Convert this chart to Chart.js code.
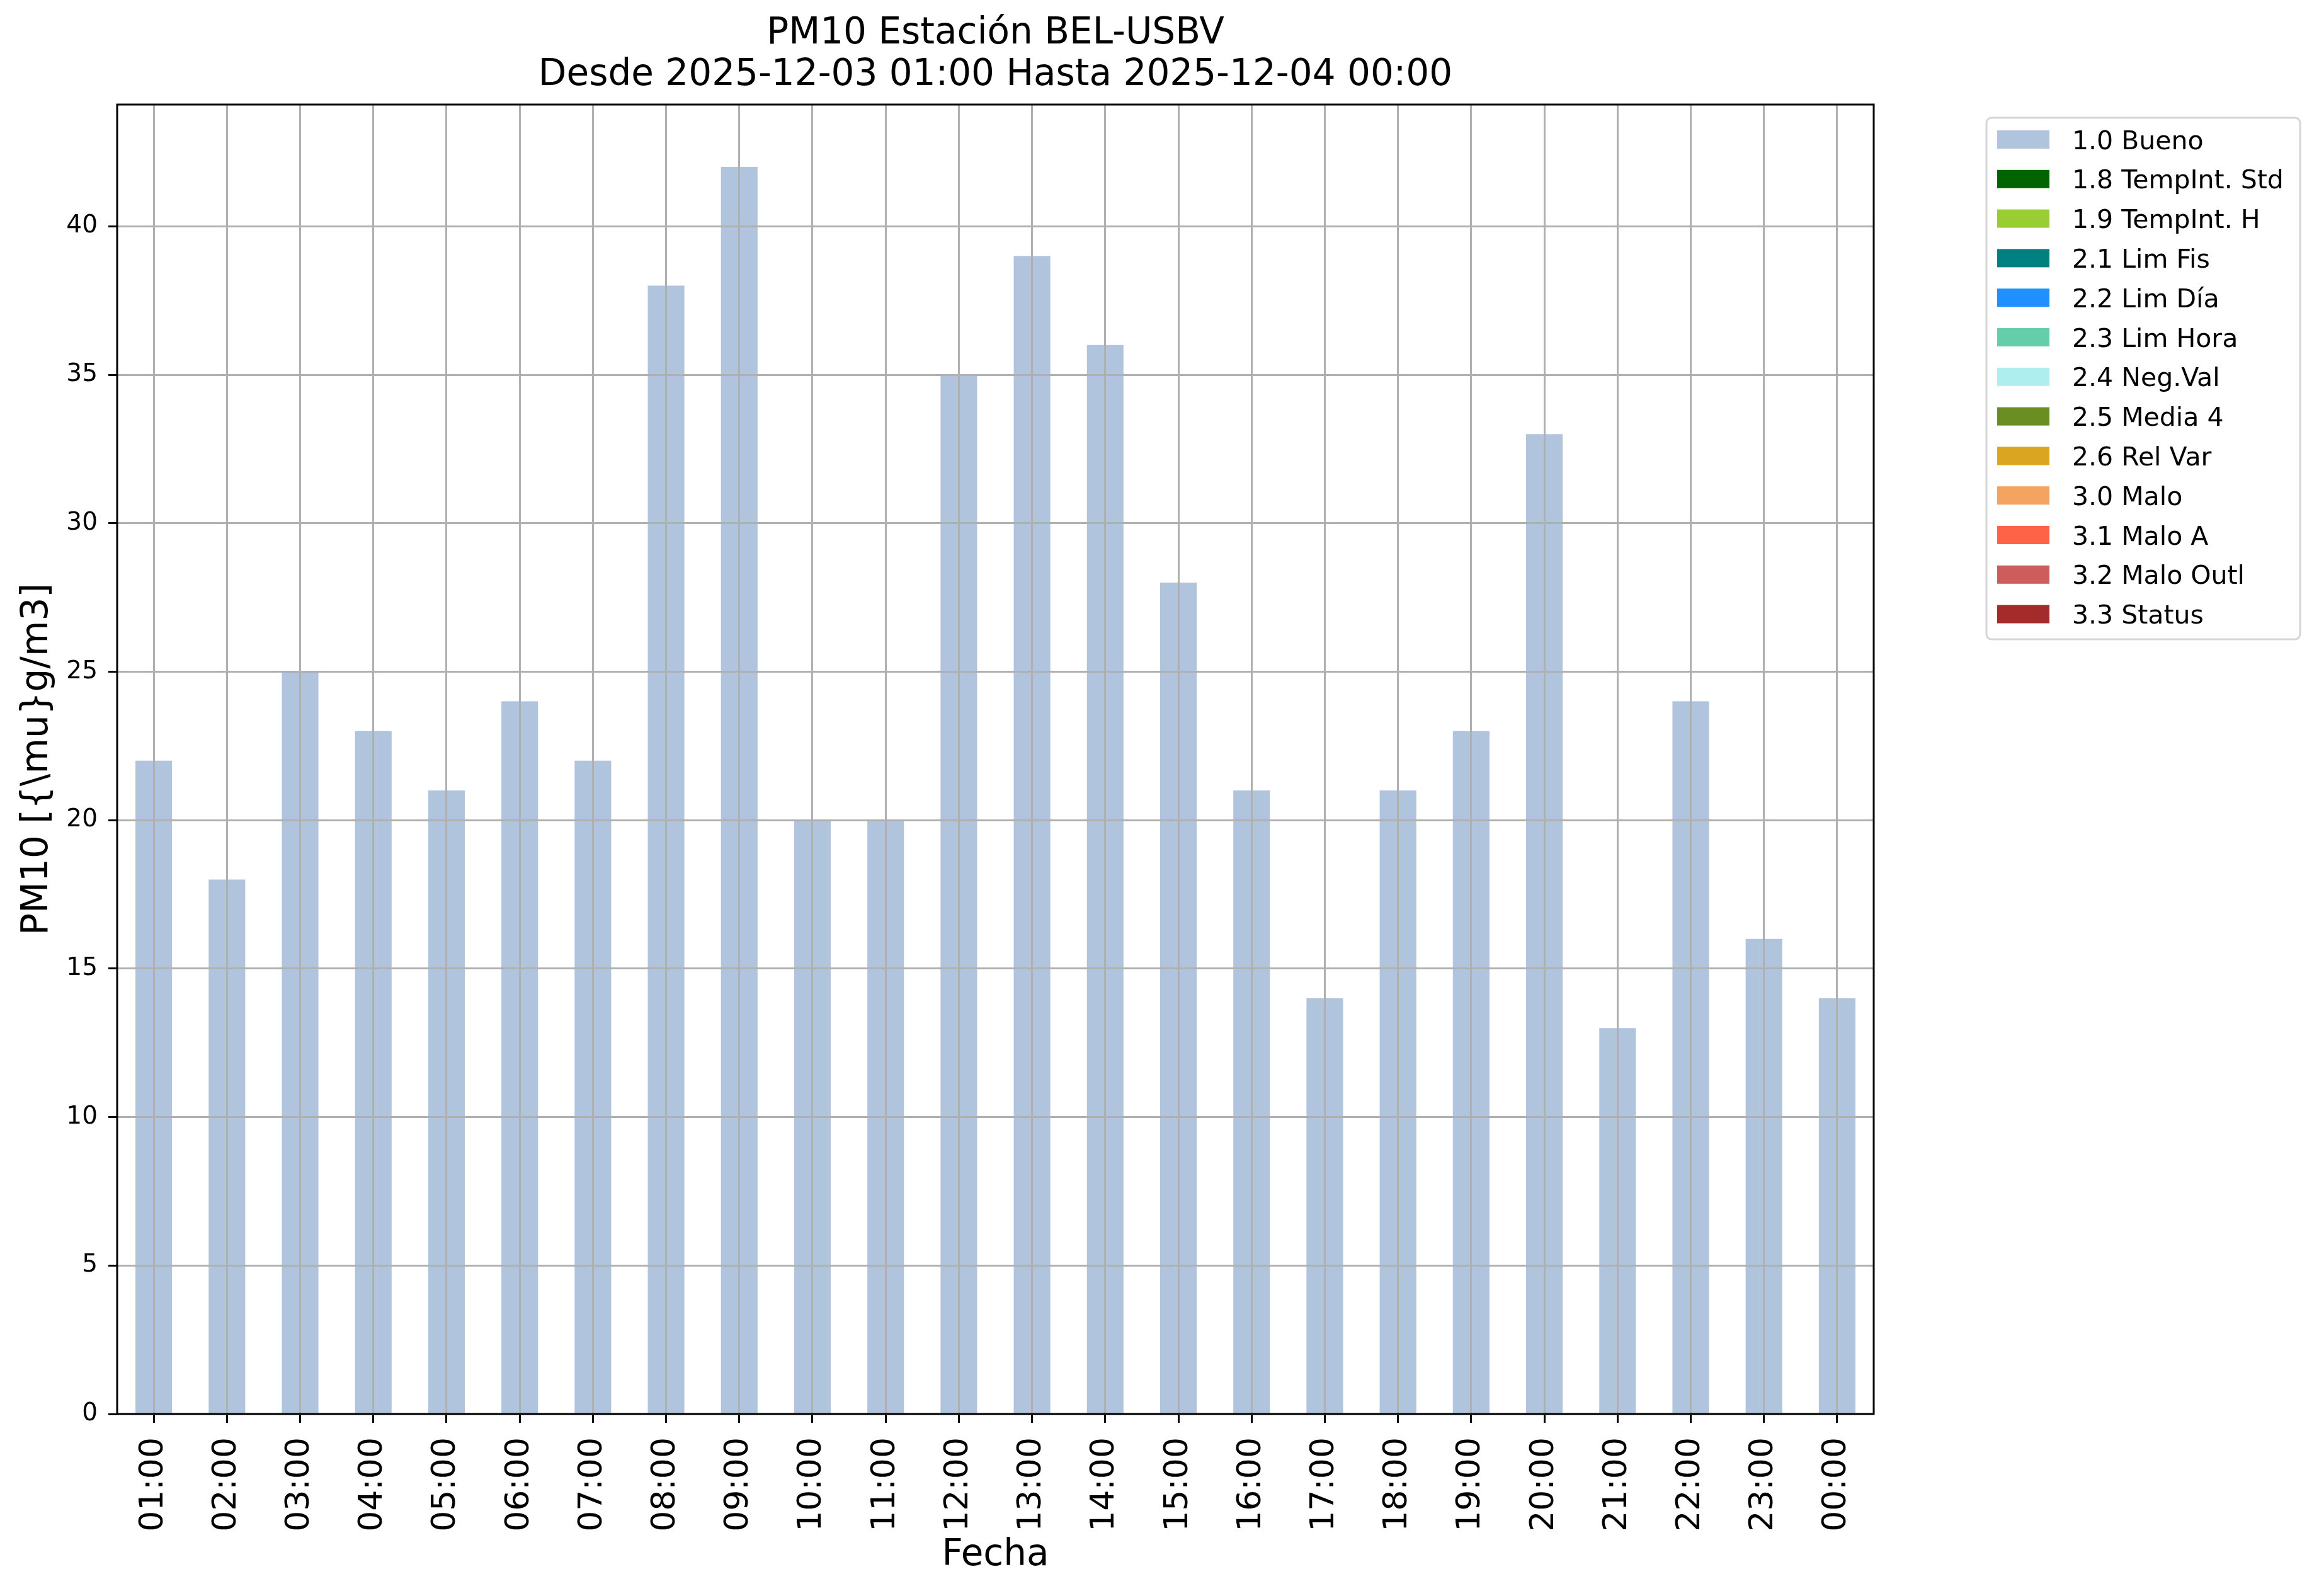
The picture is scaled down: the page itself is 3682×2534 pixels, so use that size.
<!DOCTYPE html>
<html>
<head>
<meta charset="utf-8">
<script src="https://cdn.jsdelivr.net/npm/chart.js@4.4.1/dist/chart.umd.min.js"></script>
<style>
  html, body { margin: 0; padding: 0; background: #fff; }
  canvas { display: block; }
</style>
</head>
<body>
<canvas id="myChart" width="3682" height="2534"></canvas>
<script>
const hours = [
    '01:00', '02:00', '03:00', '04:00', '05:00', '06:00',
    '07:00', '08:00', '09:00', '10:00', '11:00', '12:00',
    '13:00', '14:00', '15:00', '16:00', '17:00', '18:00',
    '19:00', '20:00', '21:00', '22:00', '23:00', '00:00',
];

// PM10 values flagged 1.0 Bueno (all hours)
const bueno = [22, 18, 25, 23, 21, 24, 22, 38, 42, 20, 20, 35,
               39, 36, 28, 21, 14, 21, 23, 33, 13, 24, 16, 14];

const flagLabels = [
    '1.0 Bueno', '1.8 TempInt. Std', '1.9 TempInt. H', '2.1 Lim Fis',
    '2.2 Lim Día', '2.3 Lim Hora', '2.4 Neg.Val', '2.5 Media 4',
    '2.6 Rel Var', '3.0 Malo', '3.1 Malo A', '3.2 Malo Outl', '3.3 Status',
];

const flagColors = [
    '#b0c4de', '#006400', '#9acd32', '#008080',
    '#1e90ff', '#66cdaa', '#afeeee', '#6b8e23',
    '#daa520', '#f4a460', '#ff6347', '#cd5c5c', '#a52a2a',
];

const yTicks = [0, 5, 10, 15, 20, 25, 30, 35, 40];
const yMax = 44.1;

Chart.defaults.font.family = "'DejaVu Sans', sans-serif";
Chart.defaults.color = '#000';

const datasets = flagLabels.map((lab, i) => ({
    label: lab,
    data: i === 0 ? bueno : [],
    backgroundColor: flagColors[i],
    borderWidth: 0,
    barPercentage: 0.5,
    categoryPercentage: 1.0,
}));

// white background + axes frame + matplotlib-like legend box
const extras = {
    id: 'extras',
    beforeDraw(chart) {
        const ctx = chart.ctx;
        ctx.save();
        ctx.fillStyle = '#fff';
        ctx.fillRect(0, 0, chart.width, chart.height);
        ctx.restore();
    },
    afterDraw(chart) {
        const ctx = chart.ctx;
        const a = chart.chartArea;
        ctx.save();
        ctx.strokeStyle = '#000';
        ctx.lineWidth = 3;
        ctx.strokeRect(a.left, a.top, a.right - a.left, a.bottom - a.top);

        // legend
        const lx = 3154, ly = 187, lw = 498, lh = 828, r = 8;
        ctx.beginPath();
        ctx.moveTo(lx + r, ly);
        ctx.arcTo(lx + lw, ly, lx + lw, ly + lh, r);
        ctx.arcTo(lx + lw, ly + lh, lx, ly + lh, r);
        ctx.arcTo(lx, ly + lh, lx, ly, r);
        ctx.arcTo(lx, ly, lx + lw, ly, r);
        ctx.closePath();
        ctx.fillStyle = '#fff';
        ctx.fill();
        ctx.strokeStyle = '#d6d6d6';
        ctx.lineWidth = 3;
        ctx.stroke();

        ctx.font = "41px 'DejaVu Sans'";
        ctx.textBaseline = 'alphabetic';
        ctx.textAlign = 'left';
        chart.data.datasets.forEach((ds, i) => {
            const cy = 221.5 + i * 62.8;
            ctx.fillStyle = ds.backgroundColor;
            ctx.fillRect(3171, cy - 14.5, 83, 29);
            ctx.fillStyle = '#000';
            ctx.fillText(ds.label, 3290, cy + 15);
        });
        ctx.restore();
    }
};

new Chart(document.getElementById('myChart'), {
    type: 'bar',
    data: { labels: hours, datasets: datasets },
    options: {
        responsive: false,
        animation: false,
        devicePixelRatio: 1,
        layout: { padding: { top: 21, right: 707, bottom: 0, left: 0 } },
        plugins: {
            legend: { display: false },
            tooltip: { enabled: false },
            title: {
                display: true,
                fullSize: false,
                text: ['PM10 Estación BEL-USBV', 'Desde 2025-12-03 01:00 Hasta 2025-12-04 00:00'],
                color: '#000',
                font: { size: 58, weight: 'normal', lineHeight: '66px' },
                padding: { top: 0, bottom: 13 },
            },
        },
        scales: {
            x: {
                stacked: true,
                afterFit(scale) { scale.height = 289; },
                grid: {
                    offset: false,
                    color: '#b0b0b0',
                    lineWidth: 3,
                    tickColor: '#000',
                    tickWidth: 3,
                    tickLength: 14,
                    z: 1,
                },
                border: { display: false },
                ticks: {
                    autoSkip: false,
                    maxRotation: 90,
                    minRotation: 90,
                    padding: 23,
                    font: { size: 52 },
                    color: '#000',
                },
                title: {
                    display: true,
                    text: 'Fecha',
                    color: '#000',
                    font: { size: 58, lineHeight: 1 },
                    padding: { top: 0, bottom: 35 },
                },
            },
            y: {
                stacked: true,
                min: 0,
                max: yMax,
                afterFit(scale) { scale.width = 186; },
                afterBuildTicks(scale) {
                    scale.ticks = yTicks.map(v => ({ value: v }));
                },
                grid: {
                    color: '#b0b0b0',
                    lineWidth: 3,
                    tickColor: '#000',
                    tickWidth: 3,
                    tickLength: 14,
                    z: 1,
                },
                border: { display: false },
                ticks: {
                    padding: 17,
                    font: { size: 39 },
                    color: '#000',
                },
                title: {
                    display: true,
                    text: 'PM10 [{\\mu}g/m3]',
                    color: '#000',
                    font: { size: 58, lineHeight: 1 },
                    padding: { top: 31, bottom: 0 },
                },
            },
        },
    },
    plugins: [extras],
});
</script>
</body>
</html>
